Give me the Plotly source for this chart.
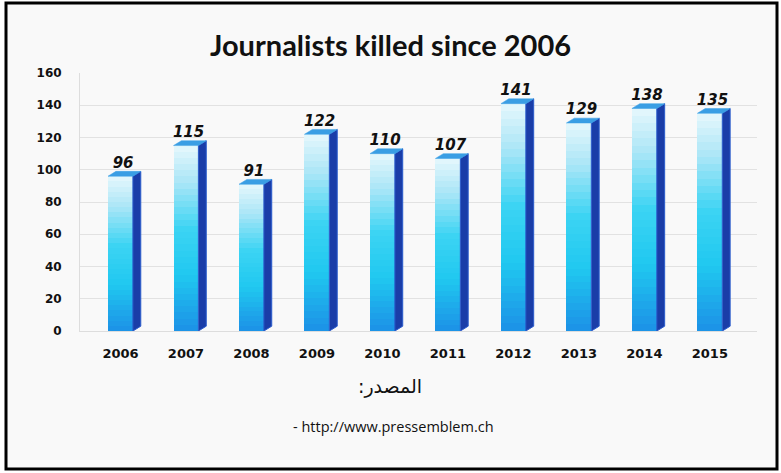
import plotly.graph_objects as go

years = ["2006", "2007", "2008", "2009", "2010", "2011", "2012", "2013", "2014", "2015"]
killed = [96, 115, 91, 122, 110, 107, 141, 129, 138, 135]
y_ticks = [0, 20, 40, 60, 80, 100, 120, 140, 160]

title_text = "Journalists killed since 2006"
source_label = "\u200fالمصدر:\u200f"
source_url = "- http://www.pressemblem.ch"

# geometry / style (not data)
W = 0.38      # bar width (axis units)
D = 0.12      # 3D depth, x
DY = 3.0      # 3D depth, y
N = 30        # gradient bands
stops = [(0.0, (28, 145, 230)), (0.3, (32, 200, 240)), (0.55, (60, 212, 243)),
         (0.8, (170, 230, 247)), (1.0, (230, 247, 252))]


def grad(t):
    for (t0, c0), (t1, c1) in zip(stops[:-1], stops[1:]):
        if t <= t1:
            f = (t - t0) / (t1 - t0)
            c = [round(a + (b - a) * f) for a, b in zip(c0, c1)]
            return "rgb(%d,%d,%d)" % tuple(c)
    return "rgb(%d,%d,%d)" % stops[-1][1]


xs = list(range(len(years)))
fig = go.Figure()

# front faces with vertical gradient
for k in range(N):
    fig.add_trace(go.Bar(
        x=xs, y=[v / N for v in killed], base=[v * k / N for v in killed],
        width=W, marker=dict(color=grad((k + 0.5) / N), line=dict(width=0)),
        showlegend=False, hoverinfo="skip"))

# side and top faces
for x, v in zip(xs, killed):
    r = x + W / 2
    l = x - W / 2
    fig.add_trace(go.Scatter(
        x=[r, r + D, r + D, r, r], y=[0, DY, v + DY, v, 0],
        fill="toself", fillcolor="#1a3da8", mode="lines",
        line=dict(color="#2a5ccc", width=1), showlegend=False, hoverinfo="skip"))
    fig.add_trace(go.Scatter(
        x=[l, r, r + D, l + D, l], y=[v, v, v + DY, v + DY, v],
        fill="toself", fillcolor="#3a9ee4", mode="lines",
        line=dict(color="#3a9ee4", width=0.5), showlegend=False, hoverinfo="skip"))

# value labels
fig.add_trace(go.Scatter(
    x=[x + D / 3 for x in xs], y=[v + DY for v in killed],
    text=[str(v) for v in killed], mode="text", textposition="top center",
    textfont=dict(family="DejaVu Sans", size=15, color="#111", weight="bold", style="italic"),
    showlegend=False, hoverinfo="skip", cliponaxis=False))

ml, mr, mt, mb = 80, 24, 73, 142
pw, ph = 781 - ml - mr, 473 - mt - mb


def px(xp):
    return (xp - ml) / pw


def py(yp):
    return (473 - mb - yp) / ph


fig.update_layout(
    width=781, height=473,
    margin=dict(l=ml, r=mr, t=mt, b=mb),
    barmode="overlay", bargap=0,
    paper_bgcolor="white", plot_bgcolor="rgba(0,0,0,0)",
    title=dict(text=title_text, x=0.5, xanchor="center", y=1 - 46 / 473, yanchor="middle",
               font=dict(family="Lato", size=29, color="#111", weight="bold")),
    xaxis=dict(range=[-0.618, 9.72], tickvals=xs, ticktext=years, showgrid=False,
               zeroline=False, showline=True, linecolor="#dddddd", linewidth=1,
               ticks="", ticklabelstandoff=10,
               tickfont=dict(family="DejaVu Sans", size=13, color="#111", weight="bold")),
    yaxis=dict(range=[0, 160], tickvals=y_ticks, showgrid=True, gridcolor="#e2e2e2",
               gridwidth=1, zeroline=False, showline=True, linecolor="#dddddd",
               ticks="", ticklabelstandoff=15,
               tickfont=dict(family="DejaVu Sans", size=12, color="#111", weight="bold")),
    shapes=[dict(type="rect", xref="paper", yref="paper", layer="below",
                 x0=px(6), x1=px(777), y0=py(469), y1=py(3),
                 fillcolor="#f9f9f9", line=dict(color="black", width=3))],
    annotations=[
        dict(text=source_label, xref="paper", yref="paper", x=px(390), y=py(400),
             showarrow=False, font=dict(family="DejaVu Sans", size=19, color="#111")),
        dict(text=source_url, xref="paper", yref="paper", x=px(393), y=py(438),
             showarrow=False, font=dict(family="Open Sans", size=14.5, color="#111")),
    ],
)

fig.write_html("out.html")
